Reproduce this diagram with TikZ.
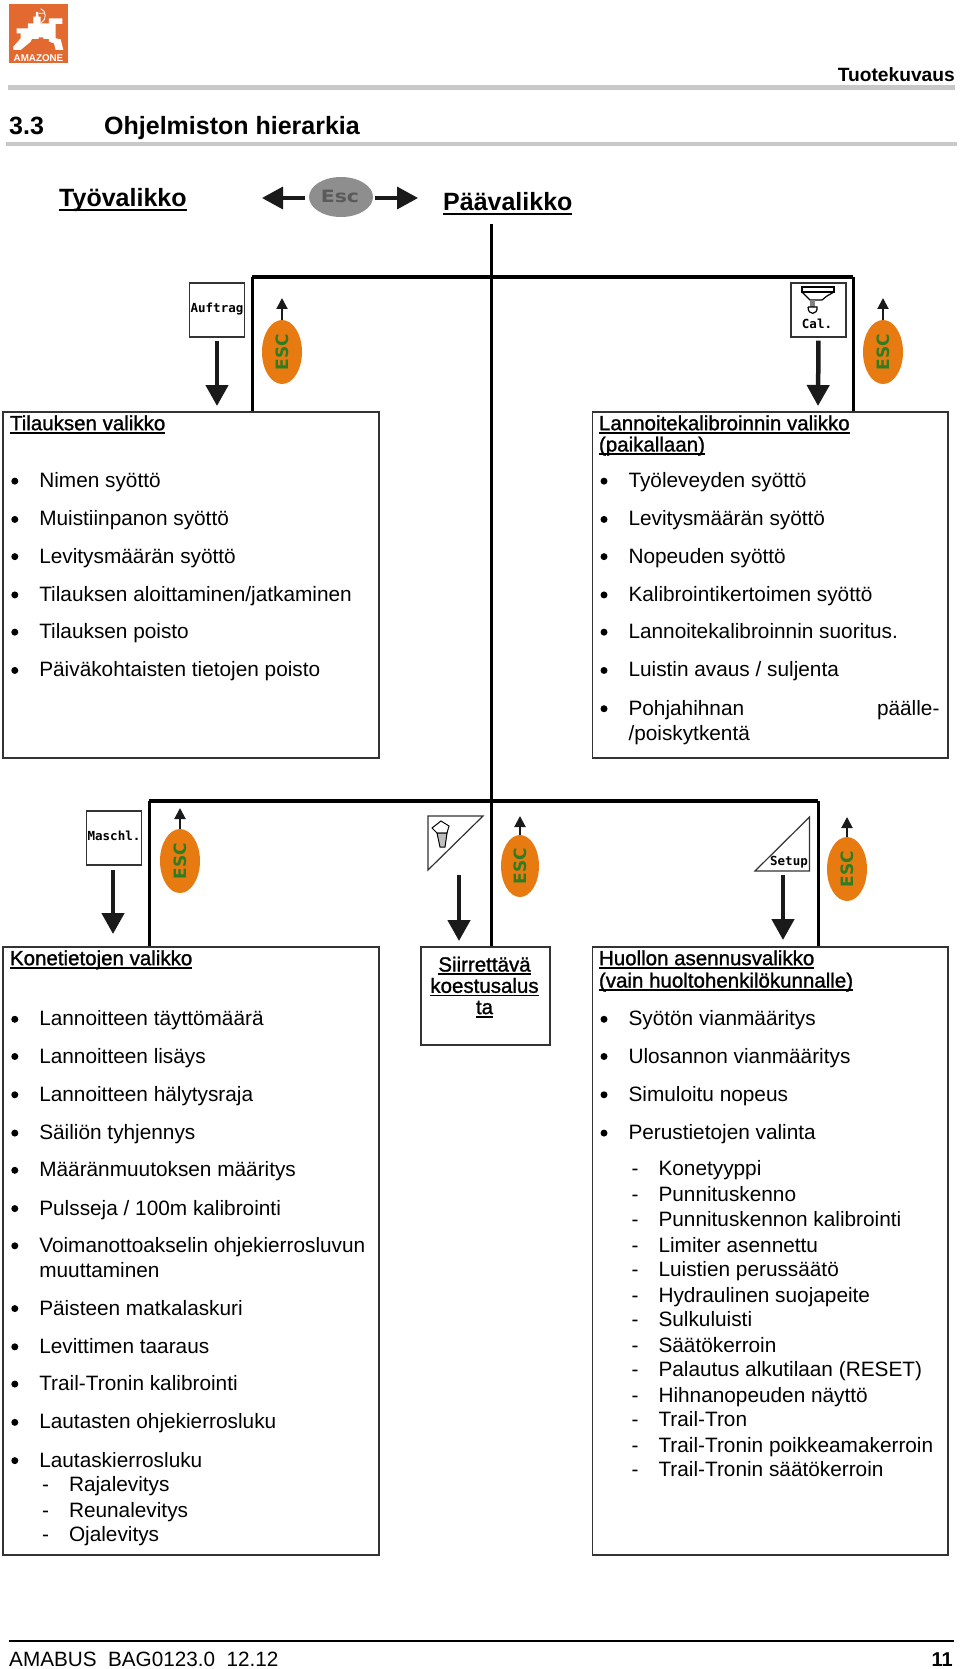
\documentclass[tikz,border=0pt]{standalone}
\usepackage{fontspec}
\setmainfont{Liberation Sans}
\newfontface\hdrface[FakeBold=1.2]{Liberation Sans}
\newfontface\pixface{DejaVu Sans Mono Bold}
\newfontface\escface{DejaVu Sans Bold}
\usetikzlibrary{arrows.meta,shapes.geometric}
\definecolor{inkc}{HTML}{1A1A1A}
\definecolor{boxc}{HTML}{333333}
\definecolor{rulec}{HTML}{C8C8C8}
\definecolor{logoc}{HTML}{E2692F}
\definecolor{escorange}{HTML}{E87A12}
\definecolor{escgreen}{HTML}{2F7D22}
\definecolor{escgrey}{HTML}{8E8E8E}
\definecolor{escgreytxt}{HTML}{5A5A5A}
\newcounter{rowno}
\newcommand{\uln}[1]{\setbox0\hbox{#1}\rlap{\rule[-3.6pt]{\wd0}{1.9pt}}\box0}
\newcommand{\bodyf}{\fontsize{20.8}{25}\selectfont}
\newcommand{\hdrf}{\fontsize{20.5}{25}\selectfont\hdrface}
\newcommand{\headf}{\fontsize{25}{30}\selectfont\bfseries}
\newcommand{\rowy}[1]{#1*1.0635+8}
\newcommand{\bitem}[3]{\stepcounter{rowno}%
  \node[bul] (b\arabic{rowno}) at (#1-24.5,{\rowy{#2}-6.5}) {};%
  \node[txt] (t\arabic{rowno}) at (#1,{\rowy{#2}}) {#3};}
\newcommand{\plain}[3]{\stepcounter{rowno}%
  \node[txt] (t\arabic{rowno}) at (#1,{\rowy{#2}}) {#3};}
\newcommand{\ditem}[3]{\stepcounter{rowno}%
  \node[txt] (d\arabic{rowno}) at (#1-27,{\rowy{#2}}) {-};%
  \node[txt] (t\arabic{rowno}) at (#1,{\rowy{#2}}) {#3};}
\newcommand{\hitem}[3]{\stepcounter{rowno}%
  \node[txt] (t\arabic{rowno}) at (#1,{\rowy{#2}}) {\hdrf\uln{#3}};}
\tikzset{
  txt/.style={anchor=base west,inner sep=0pt,outer sep=0pt,font=\bodyf,text=black},
  bul/.style={circle,fill=black,minimum size=7pt,inner sep=0pt,draw=none},
  menubox/.style={draw=boxc,line width=1.5pt,anchor=north west,inner sep=0pt,minimum width=#1},
  menubox/.default=10pt,
  barline/.style={draw=black,line width=4pt,line cap=square},
  sideline/.style={draw=black,line width=3pt},
  trunkline/.style={draw=black,line width=3pt},
  downarrow/.style={draw=inkc,line width=4.5pt,-{Triangle[width=22pt,length=21pt]}},
  uparrow/.style={draw=inkc,line width=2pt,-{Triangle[width=11pt,length=11pt]}},
  sidearrow/.style={draw=inkc,line width=3.5pt,-{Triangle[width=22pt,length=21pt]}},
  escnode/.style={ellipse,fill=escorange,draw=none,minimum width=40pt,minimum height=64pt,inner sep=0pt},
  esclabel/.style={text=escgreen,rotate=90,font=\fontsize{17}{17}\selectfont\escface,inner sep=0pt},
  iconbox/.style={draw=boxc,line width=1.2pt,minimum width=55pt,minimum height=54pt,inner sep=0pt},
  pix/.style={font=\fontsize{12.5}{13}\selectfont\pixface,inner sep=0pt,text=black},
}
\begin{document}
\begin{tikzpicture}[x=1pt,y=-1pt]
\useasboundingbox (0,0) rectangle (960,1669);
\fill[white] (0,0) rectangle (960,1669);

% logo
\node[fill=logoc,minimum width=59pt,minimum height=59pt,inner sep=0pt] (logo) at (38.5,33.5) {};
\begin{scope}[x=0.3333pt,y=-0.3333pt,shift={(4pt,0pt)}]
\fill[white] (38,85)--(72,85)--(72,70)--(88,70)--(88,50)--(96,50)--(96,36)--(103,36)--(103,50)--(110,50)--(110,70)--(135,70)--(135,55)--(175,55)--(175,72)--(155,72)--(155,115)--(170,118)--(178,150)--(155,150)--(150,130)--(135,125)--(135,117)--(118,117)--(118,112)--(104,112)--(104,117)--(84,117)--(80,125)--(50,150)--(28,150)--(28,140)--(50,115)--(50,100)--(38,100)--cycle;
\draw[white,line width=0.8pt] (110,26) .. controls (128,32) and (128,60) .. (112,68) (105,40) -- (122,40);
\end{scope}
\node[text=white,font=\fontsize{9.8}{10}\selectfont\bfseries,inner sep=0pt] (logotext) at (38.5,58.5) {AMAZONE};

% header
\node[anchor=base east,inner sep=0pt,font=\fontsize{19.2}{22}\selectfont\bfseries] (sect) at (955,82) {Tuotekuvaus};
\coordinate (r1a) at (8,87.5); \coordinate (r1b) at (955,87.5);
\draw[rulec,line width=4.5pt] (r1a) -- (r1b);
\node[anchor=base west,inner sep=0pt,font=\headf] (num) at (9,135) {3.3};
\node[anchor=base west,inner sep=0pt,font=\headf] (head) at (104,135) {Ohjelmiston hierarkia};
\coordinate (r2a) at (6,144); \coordinate (r2b) at (957,144);
\draw[rulec,line width=3.5pt] (r2a) -- (r2b);

% top menu row
\node[anchor=base west,inner sep=0pt,font=\headf] (tyo) at (59,207) {\setbox0\hbox{Työvalikko}\rlap{\rule[-4pt]{\wd0}{2.2pt}}\box0};
\node[anchor=base west,inner sep=0pt,font=\headf] (paa) at (443,211) {\setbox0\hbox{Päävalikko}\rlap{\rule[-4pt]{\wd0}{2.2pt}}\box0};
\node[ellipse,fill=escgrey,minimum width=64pt,minimum height=40pt,inner sep=0pt] (escg) at (341,197) {};
\node[inner sep=0pt,text=escgreytxt,xscale=1.2,font=\fontsize{17}{17}\selectfont\escface] (escgt) at (340,196.5) {Esc};
\coordinate (al) at (262,198); \coordinate (ar) at (418,198);
\draw[sidearrow] (escg.west) ++(-4,1) -- (al);
\draw[sidearrow] (escg.east) ++(2,1) -- (ar);

% boxes
\node[menubox=376pt,minimum height=346pt] (boxA) at (2,411) {};
\node[menubox=355.5pt,minimum height=346pt] (boxB) at (591.5,411) {};
\node[menubox=376pt,minimum height=608pt] (boxC) at (2,946) {};
\node[menubox=355.5pt,minimum height=608pt] (boxE) at (591.5,946) {};
\node[menubox=128.5pt,minimum height=98pt,line width=2.4pt] (boxD) at (420,946) {};

% hierarchy lines
\coordinate (trunk) at (491,224);
\coordinate (barAL) at (252,277); \coordinate (barAR) at (853,277);
\coordinate (barBL) at (149,801); \coordinate (barBR) at (818,801);
\draw[trunkline] (trunk) -- (boxD.north -| trunk);
\draw[sideline] (boxA.north -| barAL) -- (barAL);
\draw[sideline] (boxB.north -| barAR) -- (barAR);
\draw[sideline] (boxC.north -| barBL) -- (barBL);
\draw[sideline] (boxE.north -| barBR) -- (barBR);
\draw[barline] (barAL) -- (barAR);
\draw[barline] (barBL) -- (barBR);

% icons and arrows upper row
\node[iconbox] (auf) at (217,310) {};
\node[pix] (auft) at (217,309.5) {Auftrag};
\node[iconbox] (cal) at (818.5,310) {};
\node[pix] (calt) at (817,324) {Cal.};
\begin{scope}[line width=1.2pt,black]
\draw (802,287) -- (834,287) -- (834,292) -- (802,292) -- cycle;
\draw (802,292) -- (810,300) -- (822,300) -- (827,296) -- (834,292);
\fill[gray] (810,300) rectangle (815,307);
\draw (808,307) -- (817,307) .. controls (818,315) and (808,316) .. (808,307);
\end{scope}
\node[escnode] (e1) at (282,352) {}; \node[esclabel] at (e1) {ESC};
\node[escnode] (e2) at (883,352) {}; \node[esclabel] at (e2) {ESC};
\coordinate (e1tip) at (282,298); \coordinate (e2tip) at (883,298);
\draw[uparrow] (e1.north) -- (e1tip);
\draw[uparrow] (e2.north) -- (e2tip);
\coordinate (a1e) at (217,406); \coordinate (a2e) at (818,406);
\draw[downarrow,shorten <=3pt] (auf.south) -- (a1e);
\draw[downarrow,shorten <=3pt] (cal.south) -- (a2e);

% icons and arrows lower row
\node[iconbox] (mas) at (114,838) {};
\node[pix] (mast) at (114,836) {Maschl.};
\coordinate (tri1a) at (428,816);
\coordinate (tri1b) at (483,816); \coordinate (tri1c) at (428,870);
\draw[boxc,line width=1.2pt] (tri1a) -- (tri1b) -- (tri1c) -- cycle;
\begin{scope}[line width=1pt,black]
\draw[fill=white] (432,828) -- (441,821) -- (449,826) -- (447,833) -- (437,833) -- cycle;
\draw[fill=gray!50] (437,833) -- (447,833) -- (445,847) -- (440,847) -- cycle;
\end{scope}
\coordinate (tri2a) at (809.5,817); \coordinate (tri2b) at (809.5,871); \coordinate (tri2c) at (755,871);
\draw[boxc,line width=1.2pt] (tri2a) -- (tri2b) -- (tri2c) -- cycle;
\node[pix,anchor=east] (sett) at (808,862.5) {Setup};
\node[escnode] (e3) at (180,861) {}; \node[esclabel] at (e3) {ESC};
\node[escnode,minimum width=38pt,minimum height=62pt] (e4) at (520,866) {}; \node[esclabel] at (e4) {ESC};
\node[escnode] (e5) at (847,869) {}; \node[esclabel] at (e5) {ESC};
\coordinate (e3tip) at (180,808); \coordinate (e4tip) at (520,816); \coordinate (e5tip) at (847,817);
\draw[uparrow] (e3.north) -- (e3tip);
\draw[uparrow] (e4.north) -- (e4tip);
\draw[uparrow] (e5.north) -- (e5tip);
\coordinate (a3s) at (113,870); \coordinate (a3e) at (113,934);
\coordinate (a4s) at (459,875); \coordinate (a4e) at (459,941);
\coordinate (a5s) at (783,875); \coordinate (a5e) at (783,940);
\draw[downarrow] (a3s) -- (a3e);
\draw[downarrow] (a4s) -- (a4e);
\draw[downarrow] (a5s) -- (a5e);

% texts box A
\hitem{10}{397}{Tilauksen valikko}
\bitem{39.3}{451}{Nimen syöttö}
\bitem{39.3}{487}{Muistiinpanon syöttö}
\bitem{39.3}{522}{Levitysmäärän syöttö}
\bitem{39.3}{558}{Tilauksen aloittaminen/jatkaminen}
\bitem{39.3}{593}{Tilauksen poisto}
\bitem{39.3}{629}{Päiväkohtaisten tietojen poisto}

% texts box B
\hitem{599}{397}{Lannoitekalibroinnin valikko}
\hitem{599}{417}{(paikallaan)}
\bitem{628.5}{451}{Työleveyden syöttö}
\bitem{628.5}{487}{Levitysmäärän syöttö}
\bitem{628.5}{522}{Nopeuden syöttö}
\bitem{628.5}{558}{Kalibrointikertoimen syöttö}
\bitem{628.5}{593}{Lannoitekalibroinnin suoritus.}
\bitem{628.5}{629}{Luistin avaus / suljenta}
\bitem{628.5}{665}{Pohjahihnan}
\plain{877}{665}{päälle-}
\plain{628.5}{689}{/poiskytkentä}

% texts box C
\hitem{10}{900}{Konetietojen valikko}
\bitem{39.3}{957}{Lannoitteen täyttömäärä}
\bitem{39.3}{992}{Lannoitteen lisäys}
\bitem{39.3}{1028}{Lannoitteen hälytysraja}
\bitem{39.3}{1064}{Säiliön tyhjennys}
\bitem{39.3}{1099}{Määränmuutoksen määritys}
\bitem{39.3}{1135}{Pulsseja / 100m kalibrointi}
\bitem{39.3}{1170}{Voimanottoakselin ohjekierrosluvun}
\plain{39.3}{1194}{muuttaminen}
\bitem{39.3}{1229}{Päisteen matkalaskuri}
\bitem{39.3}{1265}{Levittimen taaraus}
\bitem{39.3}{1300}{Trail-Tronin kalibrointi}
\bitem{39.3}{1336}{Lautasten ohjekierrosluku}
\bitem{39.3}{1372}{Lautaskierrosluku}
\ditem{69}{1395}{Rajalevitys}
\ditem{69}{1419}{Reunalevitys}
\ditem{69}{1442}{Ojalevitys}

% texts box D
\node[anchor=base,inner sep=0pt,font=\hdrf] (d1) at (484.5,{\rowy{906}}) {\uln{Siirrettävä}};
\node[anchor=base,inner sep=0pt,font=\hdrf] (d2) at (484.5,{\rowy{926}}) {\uln{koestusalus}};
\node[anchor=base,inner sep=0pt,font=\hdrf] (d3) at (484.5,{\rowy{946}}) {\uln{ta}};

% texts box E
\hitem{599}{900}{Huollon asennusvalikko}
\hitem{599}{921}{(vain huoltohenkilökunnalle)}
\bitem{628.5}{957}{Syötön vianmääritys}
\bitem{628.5}{992}{Ulosannon vianmääritys}
\bitem{628.5}{1028}{Simuloitu nopeus}
\bitem{628.5}{1064}{Perustietojen valinta}
\ditem{658.5}{1098}{Konetyyppi}
\ditem{658.5}{1122}{Punnituskenno}
\ditem{658.5}{1146}{Punnituskennon kalibrointi}
\ditem{658.5}{1170}{Limiter asennettu}
\ditem{658.5}{1193}{Luistien perussäätö}
\ditem{658.5}{1217}{Hydraulinen suojapeite}
\ditem{658.5}{1240}{Sulkuluisti}
\ditem{658.5}{1264}{Säätökerroin}
\ditem{658.5}{1287}{Palautus alkutilaan (RESET)}
\ditem{658.5}{1311}{Hihnanopeuden näyttö}
\ditem{658.5}{1334}{Trail-Tron}
\ditem{658.5}{1358}{Trail-Tronin poikkeamakerroin}
\ditem{658.5}{1381}{Trail-Tronin säätökerroin}

% footer
\coordinate (fa) at (9,1641); \coordinate (fb) at (954,1641);
\draw[black,line width=2.6pt] (fa) -- (fb);
\node[anchor=base west,inner sep=0pt,font=\fontsize{20.7}{24}\selectfont] (foot) at (9,1666) {AMABUS\ \ BAG0123.0\ \ 12.12};
\node[anchor=base east,inner sep=0pt,font=\fontsize{20}{24}\selectfont\bfseries] (page) at (953,1666) {11};
\end{tikzpicture}
\end{document}
